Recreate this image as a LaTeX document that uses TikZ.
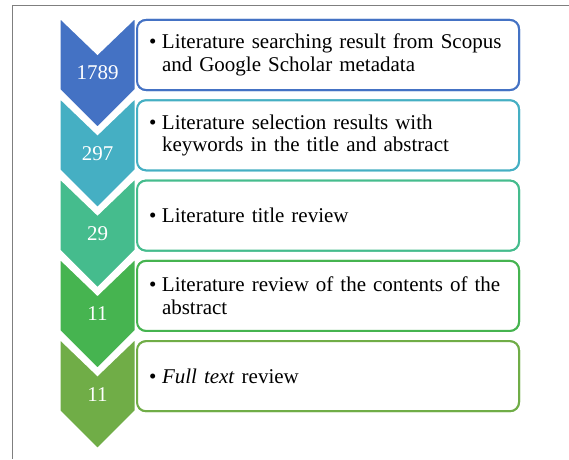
\documentclass[tikz,border=0pt]{standalone}
\usepackage{fontspec}
\setmainfont{Liberation Serif}
\usepackage{xcolor}
\usetikzlibrary{positioning, calc}

\definecolor{c1}{HTML}{4472C4}
\definecolor{c2}{HTML}{45AFC3}
\definecolor{c3}{HTML}{45BC8D}
\definecolor{c4}{HTML}{46B450}
\definecolor{c5}{HTML}{70AD47}
\definecolor{framegray}{HTML}{7F7F7F}

% bullet with the wrapped lines hanging under the first word
\newcommand{\itembullet}[1]{\makebox[13pt][l]{\textbullet}\parbox[t]{345pt}{\raggedright #1}}

\begin{document}
\begin{tikzpicture}[
  x=1pt, y=1pt,
  font=\fontsize{21}{22.5}\selectfont,
  box/.style={draw=#1, fill=white, line width=2pt, rounded corners=9pt,
    minimum width=382pt, minimum height=70pt, text width=358pt,
    inner xsep=12pt, inner ysep=0pt, align=left},
  chev/.style={fill=#1, draw=white, line width=3pt, line join=miter},
  num/.style={text=white, inner sep=0pt}
]
\useasboundingbox (0,0) rectangle (569,459);
\draw[framegray, line width=1pt] (12.5,0) -- (12.5,453) -- (569,453);

% the five stages, top to bottom
\coordinate (top) at (328,404);
\node[box=c1] (s1) at (top) {};
\node[box=c2, below=8.3pt of s1] (s2) {};
\node[box=c3, below=8.3pt of s2] (s3) {};
\node[box=c4, below=8.3pt of s3] (s4) {};
\node[box=c5, below=8.3pt of s4] (s5) {};

% chevrons on the left, each one lying over the point of the last
\filldraw[chev=c1] ($(s1.north west)+(0,3)$) -- ++(-38.5,-37) -- ++(-38.5,37) -- ++(0,-74) -- ++(38.5,-38.5) -- ++(38.5,38.5) -- cycle;
\filldraw[chev=c2] ($(s2.north west)+(0,3)$) -- ++(-38.5,-37) -- ++(-38.5,37) -- ++(0,-74) -- ++(38.5,-38.5) -- ++(38.5,38.5) -- cycle;
\filldraw[chev=c3] ($(s3.north west)+(0,3)$) -- ++(-38.5,-37) -- ++(-38.5,37) -- ++(0,-74) -- ++(38.5,-38.5) -- ++(38.5,38.5) -- cycle;
\filldraw[chev=c4] ($(s4.north west)+(0,3)$) -- ++(-38.5,-37) -- ++(-38.5,37) -- ++(0,-74) -- ++(38.5,-38.5) -- ++(38.5,38.5) -- cycle;
\filldraw[chev=c5] ($(s5.north west)+(0,3)$) -- ++(-38.5,-37) -- ++(-38.5,37) -- ++(0,-74) -- ++(38.5,-38.5) -- ++(38.5,38.5) -- cycle;

% boxes again on top so their left border stays clean
\node[box=c1] at (s1) {\itembullet{Literature searching result from Scopus\\and Google Scholar metadata}};
\node[box=c2] at (s2) {\itembullet{Literature selection results with\\keywords in the title and abstract}};
\node[box=c3] at (s3) {\itembullet{Literature title review}};
\node[box=c4] at (s4) {\itembullet{Literature review of the contents of the\\abstract}};
\node[box=c5] at (s5) {\itembullet{\textit{Full text} review}};

\node[num] (n1) at ($(s1.west)+(-38.5,-18)$) {1789};
\node[num] (n2) at ($(s2.west)+(-38.5,-18)$) {297};
\node[num] (n3) at ($(s3.west)+(-38.5,-18)$) {29};
\node[num] (n4) at ($(s4.west)+(-38.5,-18)$) {11};
\node[num] (n5) at ($(s5.west)+(-38.5,-18)$) {11};
\end{tikzpicture}
\end{document}
